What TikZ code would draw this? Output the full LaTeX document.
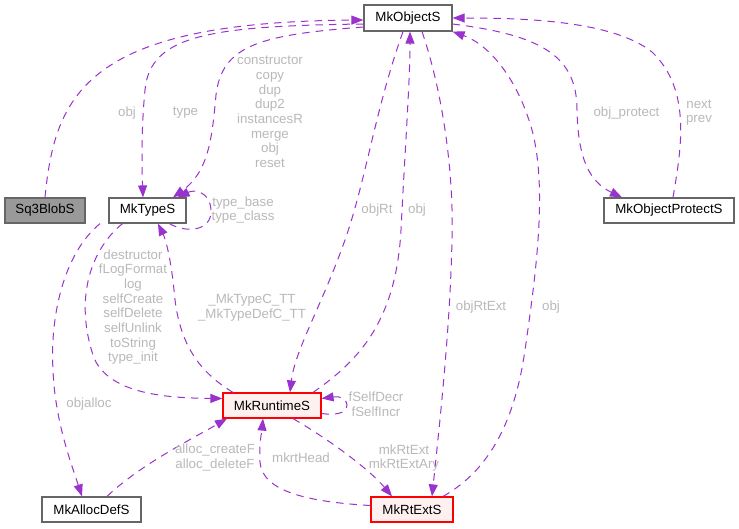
\documentclass[tikz,border=0pt]{standalone}
\usepackage{fontspec}
\setmainfont{Liberation Sans}
\usetikzlibrary{arrows.meta,calc}
\definecolor{edgecol}{HTML}{9A32CD}
\definecolor{lblcol}{RGB}{185,185,185}
\definecolor{bordcol}{HTML}{666666}
\definecolor{redfill}{HTML}{FFF0F0}
\definecolor{blobfill}{HTML}{999999}
\begin{document}
\begin{tikzpicture}[x=1pt,y=-1pt,
  box/.style={draw=bordcol, line width=1.2pt, fill=white, inner sep=0pt, minimum height=25pt, font=\fontsize{13.3}{14.66}\selectfont, text=black},
  redbox/.style={box, draw=red, fill=redfill},
  edge/.style={draw=edgecol, line width=1pt, dash pattern=on 7.5pt off 6pt, -{Triangle[length=12pt,width=9pt]}},
  lbl/.style={text=lblcol, font=\fontsize{13.3}{14.66}\selectfont, align=center, inner sep=0pt}]
\useasboundingbox[fill=white] (0,0) rectangle (739,528);

\node[box, minimum width=88pt, minimum height=26pt] (mko) at (408,18) {MkObjectS};
\node[box, fill=blobfill, minimum width=80pt] (sq) at (45,210.5) {Sq3BlobS};
\node[box, minimum width=77pt] (mkt) at (147.5,210.5) {MkTypeS};
\node[box, minimum width=130pt] (mkop) at (669,210.5) {MkObjectProtectS};
\node[redbox, minimum width=98pt] (mkr) at (272,405.5) {MkRuntimeS};
\node[box, minimum width=99pt] (mka) at (91.5,509.5) {MkAllocDefS};
\node[redbox, minimum width=82pt] (mkre) at (412,509.5) {MkRtExtS};

% edges
\draw[edge] (sq.north) .. controls (55,95) and (85,22) .. ($(mko.west)+(0,2)$);
\draw[edge] ($(mko.west)+(0,6)$) .. controls (210,26) and (150,35) .. (145,90) .. controls (141,130) and (142,170) .. ($(mkt.north)+(-4.5,0)$);
\draw[edge] ($(mko.west)+(0,9)$) .. controls (260,35) and (222,45) .. (216,95) .. controls (212,140) and (208,172) .. ($(mkt.north)+(25.5,0)$);
\draw[edge] ($(mkt.south)+(22,0)$) .. controls (185,233) and (212,232) .. (211,210) .. controls (210,192) and (195,189) .. ($(mkt.north)+(30,0)$);
\draw[edge] ($(mko.south)+(-5,0)$) .. controls (375,110) and (366,180) .. (345,240) .. controls (322,305) and (295,350) .. ($(mkr.north)+(18,0)$);
\draw[edge] ($(mkr.north)+(41,0)$) .. controls (360,360) and (396,320) .. (401,230) .. controls (405,150) and (410,80) .. ($(mko.south)+(2,0)$);
\draw[edge] ($(mko.south)+(14,0)$) .. controls (442,90) and (454,170) .. (452,240) .. controls (450,330) and (440,420) .. ($(mkre.north)+(20,0)$);
\draw[edge] ($(mkre.north)+(31,0)$) .. controls (490,470) and (515,420) .. (525,350) .. controls (535,280) and (548,190) .. (532,130) .. controls (518,80) and (490,45) .. (mko.south east);
\draw[edge] ($(mko.east)+(0,6)$) .. controls (540,35) and (577,55) .. (577,110) .. controls (578,160) and (590,182) .. ($(mkop.north)+(-47,0)$);
\draw[edge] ($(mkop.north)+(4,0)$) .. controls (681,150) and (692,90) .. (652,52) .. controls (612,20) and (520,18) .. (mko.east);
\draw[edge] ($(mkt.south)+(-25,0)$) .. controls (90,250) and (74,300) .. (94,358) .. controls (110,395) and (170,398) .. ($(mkr.west)+(0,-7)$);
\draw[edge] ($(mkr.north)+(-39,0)$) .. controls (196,370) and (178,340) .. (174,290) .. controls (171,260) and (166,240) .. ($(mkt.south)+(10.5,0)$);
\draw[edge] ($(mkr.east)+(0,8)$) .. controls (340,416) and (348,411) .. (347,405) .. controls (346,398) and (340,396) .. ($(mkr.east)+(0,-7)$);
\draw[edge] ($(mkt.south)+(-47.5,0)$) .. controls (62,255) and (50,320) .. (53,370) .. controls (55,420) and (70,460) .. ($(mka.north)+(-9.5,0)$);
\draw[edge] ($(mka.north)+(15.5,0)$) .. controls (140,465) and (190,440) .. ($(mkr.south)+(-45,0)$);
\draw[edge] ($(mkre.west)+(0,-4)$) .. controls (310,502) and (262,492) .. (260,462) .. controls (259,442) and (262,430) .. ($(mkr.south)+(-9,0)$);
\draw[edge] ($(mkr.south)+(21,0)$) .. controls (330,440) and (370,470) .. ($(mkre.north)+(-20,0)$);

% labels
\node[lbl] (l1) at (127,113) {obj};
\node[lbl] (l2) at (185.5,113) {type};
\node[lbl] (l3) at (270,112) {constructor\\copy\\dup\\dup2\\instancesR\\merge\\obj\\reset};
\node[lbl] (l4) at (243,210) {type\_base\\type\_class};
\node[lbl] (l5) at (377,210) {objRt};
\node[lbl] (l6) at (417,210) {obj};
\node[lbl] (l7) at (626.5,113) {obj\_protect};
\node[lbl] (l8) at (699,112.5) {next\\prev};
\node[lbl] (l9) at (133,307) {destructor\\fLogFormat\\log\\selfCreate\\selfDelete\\selfUnlink\\toString\\type\_init};
\node[lbl] (l10) at (252,307.5) {\_MkTypeC\_TT\\\_MkTypeDefC\_TT};
\node[lbl] (l11) at (89,404) {objalloc};
\node[lbl] (l12) at (376,404) {fSelfDecr\\fSelfIncr};
\node[lbl] (l13) at (215,457.5) {alloc\_createF\\alloc\_deleteF};
\node[lbl] (l14) at (301,458) {mkrtHead};
\node[lbl] (l15) at (404,458) {mkRtExt\\mkRtExtAry};
\node[lbl] (l16) at (481,307) {objRtExt};
\node[lbl] (l17) at (551,307) {obj};
\end{tikzpicture}
\end{document}
